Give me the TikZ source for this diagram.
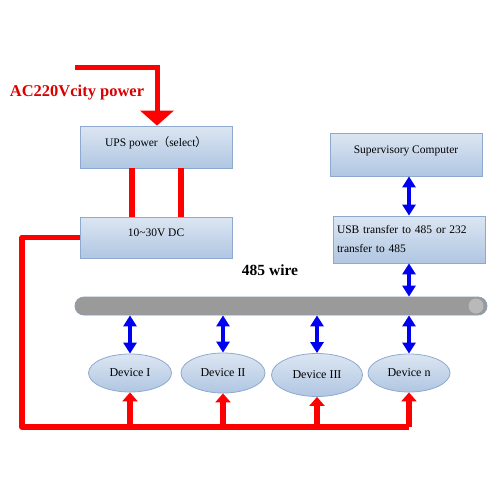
\documentclass[tikz,border=0pt]{standalone}
\usepackage{fontspec}
\setmainfont{Liberation Serif}
\newfontfamily\cjkfont{Noto Sans CJK SC}
\usetikzlibrary{arrows.meta,shapes.geometric,calc}
\definecolor{boxtop}{HTML}{DCE6F2}
\definecolor{boxbot}{HTML}{B0C6E2}
\definecolor{boxline}{HTML}{8EA9D0}
\definecolor{busgray}{HTML}{9A9A9A}
\definecolor{busline}{HTML}{8C9DB5}
\definecolor{pred}{HTML}{FF0000}
\definecolor{pblue}{HTML}{0000F0}
\begin{document}
\begin{tikzpicture}[x=1pt,y=-1pt,
  boxnode/.style={draw=boxline,line width=0.8pt,top color=boxtop,bottom color=boxbot,
    minimum width=152pt,inner sep=2pt,font=\fontsize{11.5}{19}\selectfont},
  onebox/.style={boxnode,text depth=10pt},
  devnode/.style={ellipse,draw=boxline,line width=0.8pt,top color=boxtop,bottom color=boxbot,
    inner sep=0pt,font=\fontsize{12}{14}\selectfont},
  redline/.style={draw=pred,line width=5.5pt},
  redarrow/.style={draw=pred,line width=5.5pt,-{Triangle[width=15pt,length=9pt]}},
  bigarrow/.style={draw=pred,line width=5pt,-{Triangle[width=33pt,length=15pt]}},
  bluearrow/.style={draw=pblue,line width=4pt,{Triangle[width=13pt,length=11pt]}-{Triangle[width=13pt,length=11pt]}}]
\useasboundingbox (0,0) rectangle (500,500);

% boxes
\node[onebox,minimum height=42pt] (ups) at (156,147) {UPS power{\cjkfont （}select{\cjkfont ）}};
\node[onebox,minimum height=41pt] (dc) at (156,237.5) {10\textasciitilde30V DC};
\node[onebox,minimum height=43pt] (sup) at (406,154.5) {Supervisory Computer};
\node[boxnode,minimum height=47pt,align=left,text width=144pt] (usb) at (409,239.5) {USB transfer to 485 or 232\\transfer to 485};

% bus
\node[draw=busline,line width=0.8pt,fill=busgray,rounded corners=9pt,minimum width=412pt,minimum height=18pt,inner sep=0pt] (bus) at (281,306) {};
\node[ellipse,fill=gray!55,minimum width=15pt,minimum height=15pt,inner sep=0pt] (busend) at (476,306) {};

% labels
\node[text=pred!85!black,font=\bfseries\fontsize{16.5}{18}\selectfont,inner sep=0pt] (ac) at (77,93) {AC220Vcity power};
\node[font=\bfseries\fontsize{15.5}{18}\selectfont,inner sep=0pt] (wire) at (270,270) {485 wire};

% devices
\node[devnode,minimum width=83pt,minimum height=38pt] (d1) at (130,373) {Device I};
\node[devnode,minimum width=84pt,minimum height=40pt] (d2) at (223,373) {Device II};
\node[devnode,minimum width=91pt,minimum height=43pt] (d3) at (317,375) {Device III};
\node[devnode,minimum width=82pt,minimum height=38pt] (d4) at (409,373) {Device n};

% AC power
\coordinate (acstart) at (75,68);
\draw[bigarrow] (acstart) -| ([xshift=1pt]ups.north);

% UPS -> DC
\draw[redline] ([xshift=-24pt]ups.south) -- ([xshift=-24pt]dc.north);
\draw[redline] ([xshift=25pt]ups.south) -- ([xshift=25pt]dc.north);

% DC power loop
\coordinate (c1) at (22,237.5);
\coordinate (c2) at (22,427);
\coordinate (c3) at (409,427);
\draw[redline,line join=round] (dc.west) -- (c1) -- (c2) -- (c3);
\foreach \d in {d1,d2,d3,d4}{
  \draw[redarrow] (\d.south |- c2) -- (\d.south);
  \draw[bluearrow] (\d.north |- bus.south) -- (\d.north);
}

% computer links
\draw[bluearrow] (usb.north |- sup.south) -- (usb.north);
\draw[bluearrow] (usb.south) -- (usb.south |- bus.north);
\end{tikzpicture}
\end{document}
